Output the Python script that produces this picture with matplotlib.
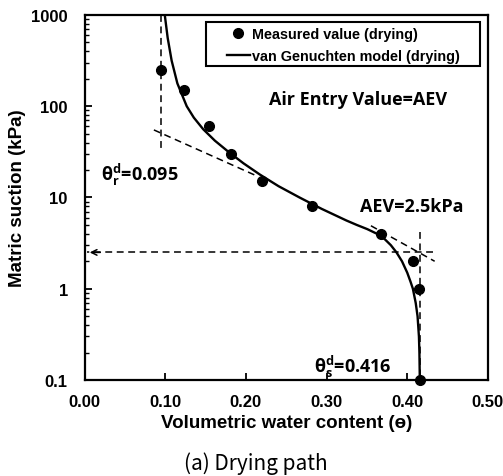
import matplotlib
matplotlib.use("Agg")
import matplotlib.pyplot as plt
from matplotlib.patches import Rectangle
from matplotlib.ticker import FixedLocator, LogLocator, NullFormatter

plt.rcParams["font.family"] = ["Liberation Sans", "DejaVu Sans"]
plt.rcParams["mathtext.fontset"] = "custom"
plt.rcParams["mathtext.bf"] = "Open Sans:bold"
plt.rcParams["mathtext.rm"] = "Open Sans:bold"
plt.rcParams["mathtext.it"] = "Open Sans:bold"

# Measured drying points: volumetric water content vs matric suction (kPa)
theta_meas = [0.095, 0.123, 0.154, 0.182, 0.220, 0.282, 0.367, 0.407, 0.415, 0.416]
psi_meas = [250, 150, 60, 30, 15, 8, 4, 2, 1, 0.1]

# van Genuchten fitted drying curve, sampled along suction
psi_model = [1000, 560, 316, 178, 100, 75, 56, 42, 31.6, 23.7, 17.8, 13.3, 10, 7.5, 5.6, 5,
             4.5, 4, 3.5, 3, 2.5, 2, 1.5, 1.2, 1, 0.7, 0.5, 0.3, 0.2, 0.1]
theta_model = [0.0995, 0.1031, 0.1080, 0.1151, 0.1267, 0.1355, 0.1471, 0.1615, 0.1785, 0.1970,
               0.2175, 0.2405, 0.2665, 0.2940, 0.3245, 0.3375, 0.3505, 0.3625, 0.3720, 0.3797,
               0.3867, 0.3935, 0.4000, 0.4040, 0.4070, 0.4105, 0.4128, 0.4145, 0.4151, 0.4156]

# Characteristic values
theta_r = 0.095
theta_s = 0.416
aev = 2.5

# Construction lines (tangents)
tan_low_theta = [0.086, 0.213]
tan_low_psi = [55, 17.3]
tan_high_theta = [0.355, 0.434]
tan_high_psi = [4.9, 2.0]
vr_psi = [1000, 33]
vs_psi = [4.2, 0.1]
aev_theta = [0.432, 0.003]

xticks = [0.0, 0.1, 0.2, 0.3, 0.4, 0.5]
xticklabels = ["0.00", "0.10", "0.20", "0.30", "0.40", "0.50"]
yticks = [0.1, 1, 10, 100, 1000]
yticklabels = ["0.1", "1", "10", "100", "1000"]

fig = plt.figure(figsize=(5.03, 4.77), dpi=100)
ax = fig.add_axes([0.168, 0.2013, 0.802, 0.7652])

ax.set_yscale("log")
ax.set_xlim(0, 0.5)
ax.set_ylim(0.1, 1000)

dash = dict(color="black", lw=1.1, ls=(0, (4.5, 3)))
ax.plot([theta_r, theta_r], vr_psi, **dash)
ax.plot(tan_low_theta, tan_low_psi, **dash)
ax.plot(tan_high_theta, tan_high_psi, **dash)
ax.plot([theta_s, theta_s], vs_psi, **dash)
ax.plot(aev_theta, [aev, aev], **dash)
ax.annotate("", xy=(aev_theta[1], aev), xytext=(aev_theta[1] + 0.02, aev),
            arrowprops=dict(arrowstyle="->", color="black", lw=1.1, mutation_scale=10))

line_model, = ax.plot(theta_model, psi_model, color="black", lw=1.7, zorder=3,
                      solid_joinstyle="round")
pts, = ax.plot(theta_meas, psi_meas, "o", color="black", ms=7, zorder=4, clip_on=False)

for s in ax.spines.values():
    s.set_linewidth(1.6)

ax.xaxis.set_major_locator(FixedLocator(xticks))
ax.set_xticklabels(xticklabels)
ax.set_yticks(yticks)
ax.set_yticklabels(yticklabels)
ax.yaxis.set_minor_locator(LogLocator(base=10, subs=range(2, 10)))
ax.yaxis.set_minor_formatter(NullFormatter())
ax.tick_params(axis="both", which="major", direction="in", length=5, width=1.3,
               labelsize=12, top=False, right=False)
ax.tick_params(axis="x", pad=10)
ax.tick_params(axis="y", pad=12)
ax.tick_params(axis="y", which="minor", direction="in", length=3, width=1.0, right=False)
for lbl in ax.get_xticklabels() + ax.get_yticklabels():
    lbl.set_fontweight("bold")

ax.set_xlabel("Volumetric water content (ө)", fontsize=13.5, fontweight="bold", labelpad=4)
ax.set_ylabel("Matric suction (kPa)", fontsize=13.5, fontweight="bold")
ax.yaxis.set_label_coords(-0.145, 0.5)

# Legend with a square black frame
ax.add_patch(Rectangle((0.300, 0.861), 0.680, 0.119, transform=ax.transAxes,
                       facecolor="white", edgecolor="black", lw=1.5, zorder=5))
leg = ax.legend([pts, line_model],
                ["Measured value (drying)", "van Genuchten model (drying)"],
                loc="center left", bbox_to_anchor=(0.352, 0.918), frameon=False,
                borderpad=0, borderaxespad=0, handlelength=1.65, handletextpad=0.1,
                labelspacing=0.55, prop=dict(size=10.4, weight="bold"))
leg.set_zorder(6)

ann = dict(fontsize=13, fontweight="bold", family=["Open Sans", "DejaVu Sans"])
ax.text(0.339, 120, "Air Entry Value=AEV", ha="center", va="center", **ann)
ax.text(0.342, 8.1, "AEV=2.5kPa", ha="left", va="center", **ann)
ax.text(0.0205, 18.1, r"$\mathbf{\theta_r^d}$=0.095", ha="left", va="center", **ann)
ax.text(0.284, 0.1435, r"$\mathbf{\theta_s^d}$=0.416", ha="left", va="center", **ann)

fig.text(256 / 503, 1 - 464 / 477, "(a) Drying path", ha="center", va="center",
         fontsize=15, fontweight="light", family=["Noto Sans CJK KR", "DejaVu Sans"])

fig.savefig("out.png", dpi=100)
